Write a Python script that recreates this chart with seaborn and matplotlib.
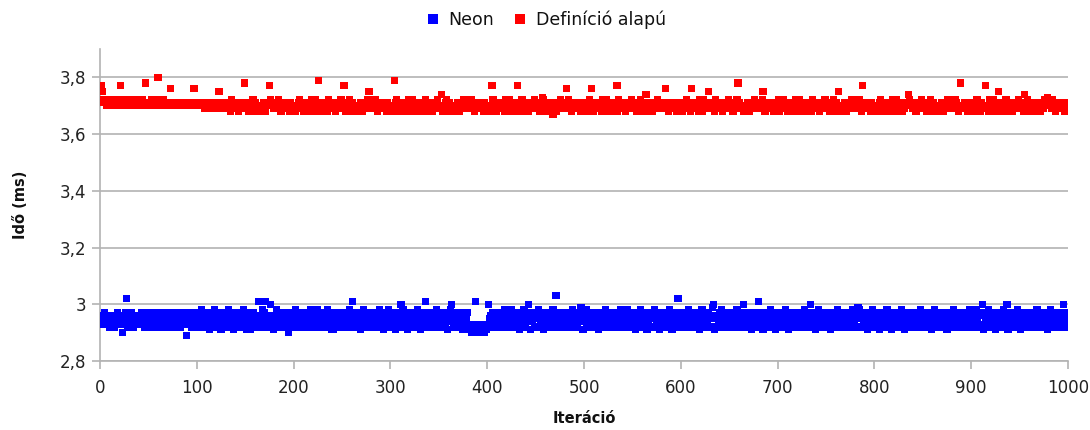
import numpy as np
import pandas as pd
import matplotlib
matplotlib.use("Agg")
import matplotlib.pyplot as plt
import seaborn as sns
from matplotlib.ticker import FuncFormatter, MultipleLocator

# Values encoded as base-36 digits in hundredths of ms above a base value
series_names = ["Neon", "Definíció alapú"]
neon_base = 2.88
neon_hundredths = """
8675968574 6857486957 572859e847 6958476857 8596748695 7485967485 6947586957 4869574869 5748596718 6957486957
4869a74859 5738695a47 6957386947 48a9574369 5748696a48 3957386958 476d584a69 d7486c5738 6a57486947 4869274869
5a48695748 6957486a57 4869a74859 5748a95738 3957486958 4769584a69 d849695738 6a57486947 48695748a9 5738695a47
6957386947 c8a9574369 5748696a48 39574d6958 4769584a69 5849695738 6ac7486947 4869374869 5342535d43 2535242535
c748695748 6957486a57 4869a74859 5738695a47 69c7386947 48a9574369 5748696a48 f957486958 4769584a69 584969b738
6a57486947 4869374869 5a48695748 6957486a57 4869a74859 5738695a47 6957386947 48a9574369 5748696a48 395748e958
4769584a69 5849695738 6a57486947 48bc374869 5a48695748 6957486a57 4869c74859 573869574d 6957386947 48a9574369
5748696a48 3957486958 4769584a69 584c695738 6a57486947 4869374869 5a48695748 6957486a57 48b9a74859 5738695a47
6957386947 48a9574369 5748696a48 3957486958 4769584a69 5849695738 6a57486947 4869374869 5a48695748 6957486a57
4869a74859 5c38695a47 6957386947 48a957c369 5748696a48 3957486958 4769584a69 5849695738 6a57486947 4869c74869
"""
def_base = 3.66
def_hundredths = """
b965654565 5645654565 b564565456 5465456546 545654c545 456545465e 5454654545 45a5454545 4545445454 545454a454
4544545344 5434543454 4593454344 3454265434 54245434c4 3452345624 5434243454 2454b65434 5436542454 3454325434
4234563452 5434543264 32643d5424 3454265434 5424543464 3b52345624 5434243454 2454365934 5436542454 3454325434
423d563452 5434543264 3264345424 3454265434 5424543464 3482345624 5434243454 2454365434 5436542454 3454325434
4234b63452 5434543264 3264345424 b454265434 5424543464 3452347624 5434243154 2454365434 5a36542454 3454325434
4234563a52 5434543264 3264345424 345b265434 5424543464 3452345624 5438243454 2454365434 543a542454 3454325434
4234563452 a434543264 3264345494 3454265434 5424543464 34523456c4 5434243454 2454365434 5436942454 3454325434
6234563452 5434543264 3264345424 3454265434 5424543464 3452345624 5494243454 2454365434 5436542b54 3454325434
4234563452 5434543264 3264345424 3454865434 5424543464 3452345624 5434243454 2454365434 54365424c4 3454325434
4234563452 5434b43264 3264345924 3454265434 5424543464 3452845624 5434243454 2454365474 5436542454 3454325434
"""

def decode(s, base):
    chars = "".join(s.split())
    return np.array([base + int(c, 36) / 100.0 for c in chars])

neon_vals = decode(neon_hundredths, neon_base)
def_vals = decode(def_hundredths, def_base)
iterations = np.arange(1, len(neon_vals) + 1)

df = pd.DataFrame({
    "Iteráció": np.concatenate([iterations, iterations]),
    "Idő": np.concatenate([neon_vals, def_vals]),
    "Sorozat": [series_names[0]] * len(neon_vals) + [series_names[1]] * len(def_vals),
})

sns.set_theme(style="white")
plt.rcParams["font.family"] = ["DejaVu Sans"]

fig = plt.figure(figsize=(10.9, 4.3), dpi=100)
ax = fig.add_axes([100 / 1090, 1 - 361 / 430, 968 / 1090, 312 / 430])

sns.scatterplot(data=df, x="Iteráció", y="Idő", hue="Sorozat",
                palette={series_names[0]: "#0000ff", series_names[1]: "#ff0000"},
                marker="s", s=27, linewidth=0, ax=ax, legend=True, zorder=3)

ax.set_xlim(0, 1000)
ax.set_ylim(2.8, 3.9)
ax.xaxis.set_major_locator(MultipleLocator(100))
ax.set_yticks([2.8, 3.0, 3.2, 3.4, 3.6, 3.8])

def yfmt(v, pos):
    s = ("%.1f" % v)
    if s.endswith(".0"):
        s = s[:-2]
    return s.replace(".", ",")
ax.yaxis.set_major_formatter(FuncFormatter(yfmt))

ax.grid(axis="y", color="#b3b3b3", linewidth=1.2, zorder=0)
ax.set_axisbelow(True)
for sp in ["top", "right"]:
    ax.spines[sp].set_visible(False)
for sp in ["left", "bottom"]:
    ax.spines[sp].set_color("#b3b3b3")
    ax.spines[sp].set_linewidth(1.2)
ax.tick_params(axis="both", which="major", direction="out", length=6, width=1.2,
               color="#b3b3b3", labelsize=12, labelcolor="#222222",
               bottom=True, left=True)
ax.tick_params(axis="x", pad=7)
ax.tick_params(axis="y", pad=4)

ax.set_xlabel("Iteráció", fontsize=10.5, fontweight="bold", color="#111111")
ax.xaxis.set_label_coords(0.5, (361 - 411) / 312)
ax.set_ylabel("Idő (ms)", fontsize=10.5, fontweight="bold", color="#111111")
ax.yaxis.set_label_coords((28 - 100) / 968, 0.5)

leg = ax.legend(loc="center", bbox_to_anchor=(0.455, 1.093), ncol=2, frameon=False,
                handletextpad=-0.1, columnspacing=0.5, markerscale=1.5, fontsize=12.5,
                borderaxespad=0)
for t in leg.get_texts():
    t.set_color("#111111")

fig.savefig("out.png", dpi=100)
